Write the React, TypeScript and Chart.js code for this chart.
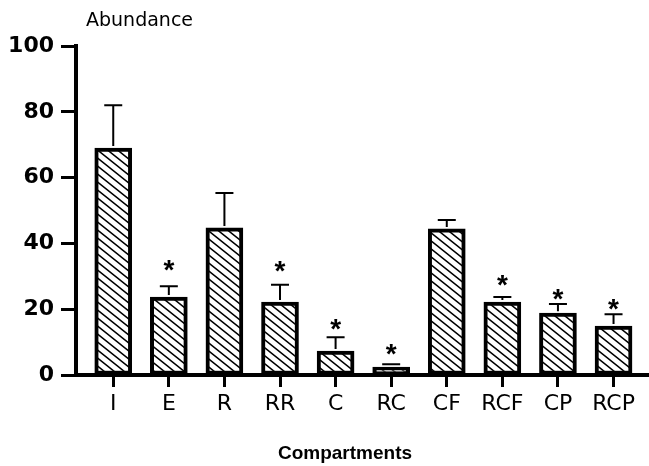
import { useEffect, useRef } from 'react';
import { Chart, registerables } from 'chart.js';

Chart.register(...registerables);

const categories = ['I', 'E', 'R', 'RR', 'C', 'RC', 'CF', 'RCF', 'CP', 'RCP'];
const abundance = [69, 23.7, 44.7, 22.2, 7.3, 2.4, 44.4, 22.2, 18.8, 14.9];
const errorUpper = [13, 3.3, 10.6, 5.2, 4.2, 0.9, 2.7, 1.5, 2.8, 3.6];
const asteriskAt: (number | null)[] = [null, 34, null, 33.7, 16.1, 8.5, null, 29.6, 25.2, 22.2];
const yTicks = [0, 20, 40, 60, 80, 100];
const yTitle = 'Abundance';
const xTitle = 'Compartments';

function makeHatch(): CanvasPattern | string {
  const c = document.createElement('canvas');
  c.width = 10;
  c.height = 8;
  const g = c.getContext('2d');
  if (!g) return '#fff';
  g.fillStyle = '#ffffff';
  g.fillRect(0, 0, 10, 8);
  g.strokeStyle = '#000';
  g.lineWidth = 1.5;
  g.beginPath();
  g.moveTo(-2.5, -2);
  g.lineTo(12.5, 10);
  g.moveTo(-2.5, 6);
  g.lineTo(2.5, 10);
  g.moveTo(7.5, -2);
  g.lineTo(12.5, 2);
  g.stroke();
  return g.createPattern(c, 'repeat') || '#fff';
}

const overlay = {
  id: 'overlay',
  afterDatasetsDraw(chart: any) {
    const { ctx, scales } = chart;
    const x = scales.x;
    const y = scales.y;
    ctx.save();
    ctx.strokeStyle = '#000';
    ctx.lineWidth = 2;
    abundance.forEach((v, i) => {
      const px = x.getPixelForValue(i);
      const y0 = y.getPixelForValue(v);
      const y1 = y.getPixelForValue(v + errorUpper[i]);
      ctx.beginPath();
      ctx.moveTo(px, y0 - 2);
      ctx.lineTo(px, y1);
      ctx.moveTo(px - 9, y1);
      ctx.lineTo(px + 9, y1);
      ctx.stroke();
    });
    ctx.fillStyle = '#000';
    ctx.textAlign = 'center';
    ctx.textBaseline = 'alphabetic';
    ctx.font = 'bold 28px "Liberation Sans", Arial, sans-serif';
    asteriskAt.forEach((a, i) => {
      if (a == null) return;
      const px = x.getPixelForValue(i);
      const py = y.getPixelForValue(a);
      ctx.fillText('*', px, py + 16);
    });
    ctx.textAlign = 'left';
    ctx.font = '19px "DejaVu Sans", sans-serif';
    ctx.fillText(yTitle, 86, 26);
    ctx.textAlign = 'center';
    ctx.font = 'bold 19px "Liberation Sans", Arial, sans-serif';
    ctx.fillText(xTitle, 345, 459);
    ctx.restore();
  },
};

const whiteBg = {
  id: 'whiteBg',
  beforeDraw(chart: any) {
    const { ctx, width, height } = chart;
    ctx.save();
    ctx.fillStyle = '#ffffff';
    ctx.fillRect(0, 0, width, height);
    ctx.restore();
  },
};

export default function App() {
  const ref = useRef<HTMLCanvasElement | null>(null);
  useEffect(() => {
    if (!ref.current) return;
    const hatch = makeHatch();
    const chart = new Chart(ref.current, {
      type: 'bar',
      data: {
        datasets: [
          {
            data: abundance.map((v, i) => ({ x: i, y: v })),
            backgroundColor: hatch as any,
            borderColor: '#000',
            borderWidth: 4,
            borderSkipped: false,
            barThickness: 37,
          },
        ],
      },
      options: {
        animation: false,
        responsive: false,
        layout: { padding: { top: 46, right: 1, left: 0, bottom: 0 } },
        plugins: { legend: { display: false }, tooltip: { enabled: false } },
        scales: {
          x: {
            type: 'linear',
            offset: false,
            min: -0.67,
            max: 9.62,
            afterBuildTicks: (scale: any) => {
              scale.ticks = categories.map((_, i) => ({ value: i }));
            },
            afterFit: (scale: any) => {
              scale.height = 91;
            },
            grid: {
              offset: false,
              drawOnChartArea: false,
              drawTicks: true,
              tickLength: 12,
              tickWidth: 3,
              tickColor: '#000',
            },
            border: { display: true, color: '#000', width: 4 },
            ticks: {
              autoSkip: false,
              maxRotation: 0,
              padding: 4,
              color: '#000',
              font: { family: '"DejaVu Sans", sans-serif', size: 22 },
              callback: (v: any) => categories[v] ?? '',
            },
          },
          y: {
            min: 0,
            max: 100,
            afterBuildTicks: (scale: any) => {
              scale.ticks = yTicks.map((v) => ({ value: v }));
            },
            afterFit: (scale: any) => {
              scale.width = 76;
            },
            grid: {
              drawOnChartArea: false,
              drawTicks: true,
              tickLength: 15,
              tickWidth: 3,
              tickColor: '#000',
            },
            border: { display: true, color: '#000', width: 4 },
            ticks: {
              padding: 7,
              color: '#000',
              font: { family: '"DejaVu Sans", sans-serif', size: 22, weight: 'bold' },
            },
          },
        },
      },
      plugins: [whiteBg, overlay],
    });
    return () => chart.destroy();
  }, []);
  return (
    <div style={{ position: 'absolute', left: 0, top: 0, width: 649, height: 466 }}>
      <canvas ref={ref} width={649} height={466} style={{ display: 'block' }} />
    </div>
  );
}
